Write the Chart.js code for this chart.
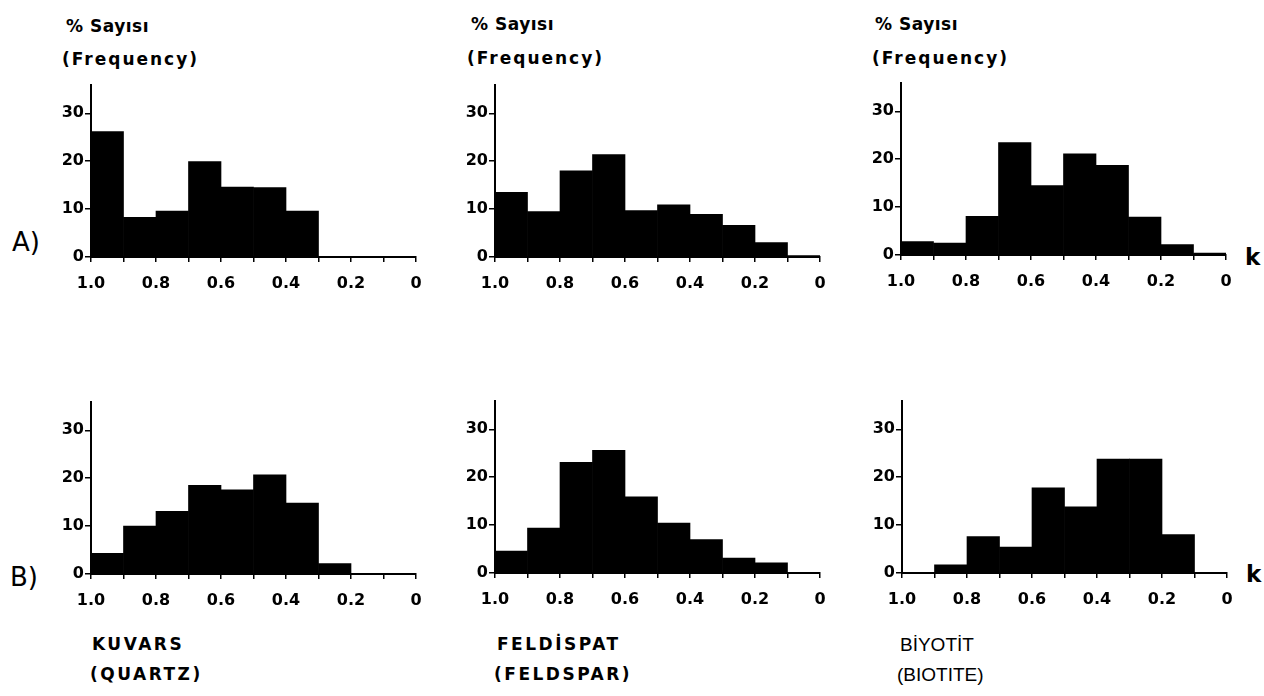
<!DOCTYPE html>
<html>
<head>
<meta charset="utf-8">
<script src="https://cdn.jsdelivr.net/npm/chart.js@4"></script>
<style>
  body { margin: 0; background: #fff; width: 1264px; height: 696px; position: relative; overflow: hidden; }
  canvas { position: absolute; }
  .txt { position: absolute; font-family: "DejaVu Sans", sans-serif; font-weight: bold; color: #000; white-space: nowrap; line-height: 1; }
  .title { font-size: 17px; letter-spacing: 0.5px; }
  .freq { font-size: 17px; letter-spacing: 2px; }
  .row { font-size: 26px; font-weight: normal; }
  .k { font-size: 23px; }
  .name { font-size: 17px; letter-spacing: 2.5px; font-weight: bold; }
  .plain { font-family: "Liberation Sans", Arial, sans-serif; font-weight: normal; font-size: 19px; letter-spacing: 0; }
</style>
</head>
<body>

<div class="txt title" style="left:66px;top:18px">% Sayısı</div>
<div class="txt freq" style="left:62px;top:51px">(Frequency)</div>
<div class="txt title" style="left:471px;top:16px">% Sayısı</div>
<div class="txt freq" style="left:467px;top:50px">(Frequency)</div>
<div class="txt title" style="left:875px;top:16px">% Sayısı</div>
<div class="txt freq" style="left:872px;top:50px">(Frequency)</div>

<div class="txt row" style="left:12px;top:229px">A)</div>
<div class="txt row" style="left:10px;top:564px">B)</div>
<div class="txt k" style="left:1245px;top:246px">k</div>
<div class="txt k" style="left:1246px;top:563px">k</div>

<div class="txt name" style="left:92px;top:636px">KUVARS</div>
<div class="txt name" style="left:90px;top:666px">(QUARTZ)</div>
<div class="txt name" style="left:497px;top:636px">FELDİSPAT</div>
<div class="txt name" style="left:494px;top:666px">(FELDSPAR)</div>
<div class="txt plain" style="left:900px;top:635px">BİYOTİT</div>
<div class="txt plain" style="left:897px;top:665px">(BIOTITE)</div>

<canvas id="quartzA" width="385" height="223" style="left:51px;top:74px"></canvas>
<canvas id="feldsparA" width="385" height="223" style="left:455px;top:74px"></canvas>
<canvas id="biotiteA" width="385" height="223" style="left:861px;top:72px"></canvas>
<canvas id="quartzB" width="385" height="223" style="left:51px;top:391px"></canvas>
<canvas id="feldsparB" width="385" height="223" style="left:455px;top:390px"></canvas>
<canvas id="biotiteB" width="385" height="223" style="left:862px;top:390px"></canvas>

<script>
// k classes (bin centres, read from 1.0 down to 0)
const binCenters = [0.95, 0.85, 0.75, 0.65, 0.55, 0.45, 0.35, 0.25, 0.15, 0.05];

// % frequency per bin
const quartzA   = [26.2, 8.3, 9.6, 19.9, 14.6, 14.5, 9.6, 0, 0, 0];
const feldsparA = [13.5, 9.5, 18.0, 21.4, 9.7, 10.9, 8.9, 6.6, 3.0, 0.3];
const biotiteA  = [2.8, 2.5, 8.1, 23.5, 14.5, 21.1, 18.7, 7.9, 2.2, 0.4];
const quartzB   = [4.3, 10.0, 13.1, 18.5, 17.6, 20.7, 14.8, 2.2, 0, 0];
const feldsparB = [4.6, 9.4, 23.1, 25.6, 15.9, 10.4, 7.0, 3.1, 2.1, 0];
const biotiteB  = [0, 1.7, 7.6, 5.4, 17.8, 13.8, 23.8, 23.8, 8.0, 0];

const xTickLabels = ['0', '0.2', '0.4', '0.6', '0.8', '1.0'];
const yTickValues = [0, 10, 20, 30];

const tickFont = { family: 'DejaVu Sans', size: 16, weight: 'bold' };

function makeHist(id, values) {
    const ctx = document.getElementById(id);
    new Chart(ctx, {
        type: 'bar',
        data: {
            datasets: [{
                data: binCenters.map((x, i) => ({ x: x, y: values[i] })),
                backgroundColor: '#000',
                borderWidth: 0,
                barPercentage: 1,
                categoryPercentage: 1
            }]
        },
        options: {
            responsive: false,
            animation: false,
            layout: { padding: { top: 10, right: 20, left: 0, bottom: 0 } },
            plugins: { legend: { display: false }, tooltip: { enabled: false } },
            scales: {
                x: {
                    type: 'linear',
                    reverse: true,
                    min: 0,
                    max: 1,
                    offset: false,
                    grid: { offset: false, drawOnChartArea: false, drawTicks: true, tickLength: 5, color: '#000', lineWidth: 1.5 },
                    border: { display: true, color: '#000', width: 2 },
                    ticks: {
                        stepSize: 0.1,
                        autoSkip: false,
                        maxRotation: 0,
                        color: '#000',
                        font: tickFont,
                        padding: 12,
                        callback: (v) => {
                            const n = Math.round(v * 10);
                            return n % 2 === 0 ? xTickLabels[n / 2] : '';
                        }
                    },
                    afterFit: (scale) => { scale.height = 40; }
                },
                y: {
                    min: 0,
                    max: 36,
                    grid: { drawOnChartArea: false, drawTicks: true, tickLength: 6, color: '#000', lineWidth: 1.5 },
                    border: { display: true, color: '#000', width: 2 },
                    ticks: { stepSize: 10, color: '#000', font: tickFont, padding: 1 },
                    afterBuildTicks: (axis) => {
                        axis.ticks = yTickValues.map(v => ({ value: v }));
                    },
                    afterFit: (scale) => { scale.width = 40; }
                }
            }
        }
    });
}

window.addEventListener('load', () => {
    makeHist('quartzA', quartzA);
    makeHist('feldsparA', feldsparA);
    makeHist('biotiteA', biotiteA);
    makeHist('quartzB', quartzB);
    makeHist('feldsparB', feldsparB);
    makeHist('biotiteB', biotiteB);
});
</script>
</body>
</html>
